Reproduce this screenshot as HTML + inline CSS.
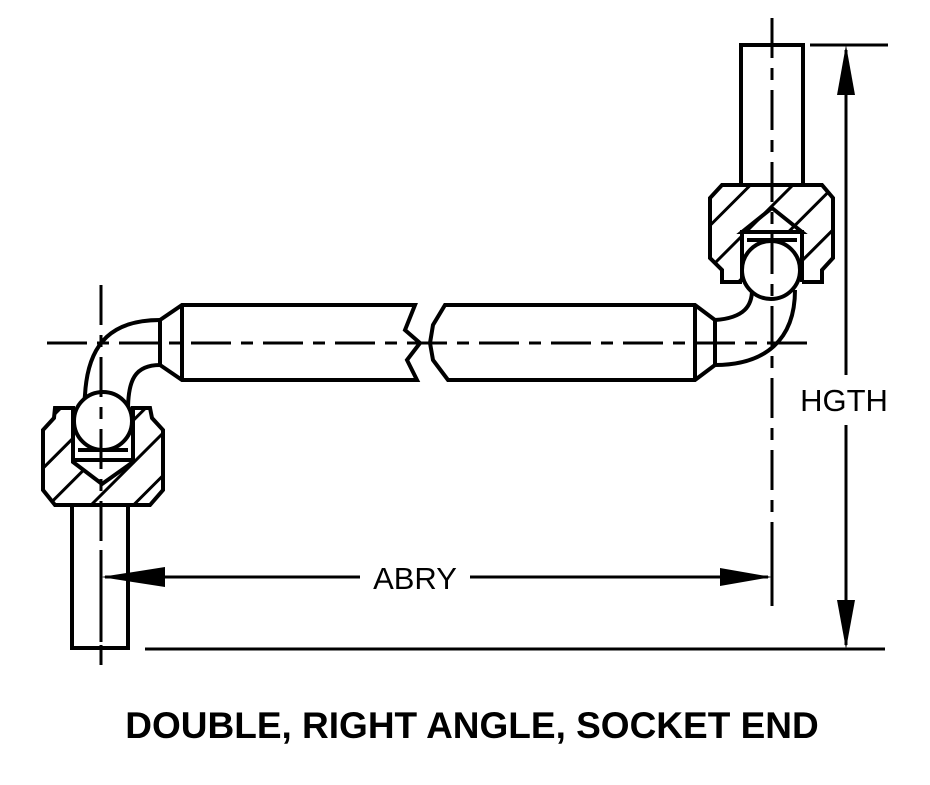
<!DOCTYPE html>
<html><head><style>body{margin:0;background:#fff}</style></head><body>
<svg width="930" height="780" viewBox="0 0 930 780" xmlns="http://www.w3.org/2000/svg" font-family="Liberation Sans, sans-serif">
<defs>
<pattern id="h" patternUnits="userSpaceOnUse" width="30" height="30" patternTransform="rotate(45)">
<rect width="30" height="30" fill="#fff"/><line x1="0" y1="0" x2="0" y2="30" stroke="#000" stroke-width="6"/>
</pattern>
</defs>
<g stroke="#000" stroke-width="4" fill="none">
<!-- left nut -->
<path d="M55,408 L73,408 L73,455 L133,455 L133,408 L150,408 L152,418 L163,430 L163,490 L150,505 L55,505 L43,490 L43,430 L54,418 Z" fill="url(#h)"/>
<path d="M73,455 L73,462 L102,484 L133,462 L133,455" fill="#fff"/>
<rect x="73" y="408" width="60" height="54" fill="#fff" stroke="none"/>
<line x1="73" y1="408" x2="73" y2="462"/><line x1="133" y1="408" x2="133" y2="462"/>
<line x1="78" y1="450" x2="128" y2="450"/>
<line x1="73" y1="460" x2="133" y2="460"/>
<!-- left tube -->
<rect x="72" y="505" width="56" height="143" fill="#fff"/>
<!-- left elbow -->
<path d="M160,320 C115,320 88,340 85,395 L82,425"/>
<path d="M160,365 C135,365 128,380 128,410"/>
<circle cx="103" cy="421" r="29" fill="#fff"/>
<!-- tube -->
<path d="M160,320 L182,305 L415,305 L405,330 L420,343 L407,360 L417,380 L182,380 L160,365 Z" fill="#fff"/>
<line x1="182" y1="305" x2="182" y2="380"/>
<path d="M445,305 L695,305 L715,320 L715,365 L695,380 L448,380 L433,360 L430,343 L433,325 Z" fill="#fff"/>
<line x1="695" y1="305" x2="695" y2="380"/>
<line x1="160" y1="320" x2="160" y2="365"/>
<!-- right vertical tube -->
<rect x="741" y="45" width="62" height="142" fill="#fff"/>
<!-- right nut -->
<path d="M722,185 L822,185 L833,198 L833,258 L822,270 L822,282 L802,282 L802,232 L742,232 L742,282 L722,282 L722,270 L710,258 L710,198 Z" fill="url(#h)"/>
<path d="M742,232 L772,208 L802,232 Z" fill="url(#h)"/>
<rect x="742" y="232" width="60" height="55" fill="#fff" stroke="none"/>
<line x1="742" y1="232" x2="742" y2="282"/><line x1="802" y1="232" x2="802" y2="282"/>
<line x1="742" y1="232" x2="802" y2="232"/>
<line x1="747" y1="240" x2="797" y2="240"/>
<!-- right elbow -->
<path d="M715,365 C765,365 795,340 795,290"/>
<path d="M715,320 C745,318 752,305 752,290"/>
<circle cx="771" cy="270" r="29" fill="#fff"/>
</g>
<!-- centerlines -->
<g stroke="#000" stroke-width="3" stroke-dasharray="40,10,12,10">
<line x1="47" y1="343" x2="810" y2="343"/>
<line x1="101" y1="285" x2="101" y2="665"/>
<line x1="772" y1="18" x2="772" y2="548"/>
</g>
<g stroke="#000" stroke-width="3">
<line x1="101" y1="550" x2="101" y2="642"/>
<line x1="772" y1="548" x2="772" y2="606"/>
<line x1="145" y1="649" x2="885" y2="649"/>
<line x1="810" y1="45" x2="888" y2="45"/>
<line x1="105" y1="577" x2="360" y2="577"/>
<line x1="470" y1="577" x2="768" y2="577"/>
<line x1="846" y1="50" x2="846" y2="375"/>
<line x1="846" y1="425" x2="846" y2="645"/>
</g>
<g fill="#000">
<polygon points="101,577 165,567 165,587"/>
<polygon points="772,577 720,568 720,586"/>
<polygon points="846,45 837,95 855,95"/>
<polygon points="846,649 837,600 855,600"/>
</g>
<text x="415" y="589" font-size="31" text-anchor="middle">ABRY</text>
<text x="844" y="411" font-size="31" text-anchor="middle">HGTH</text>
<text x="472" y="738" font-size="37" font-weight="bold" text-anchor="middle">DOUBLE, RIGHT ANGLE, SOCKET END</text>
</svg>
</body></html>
